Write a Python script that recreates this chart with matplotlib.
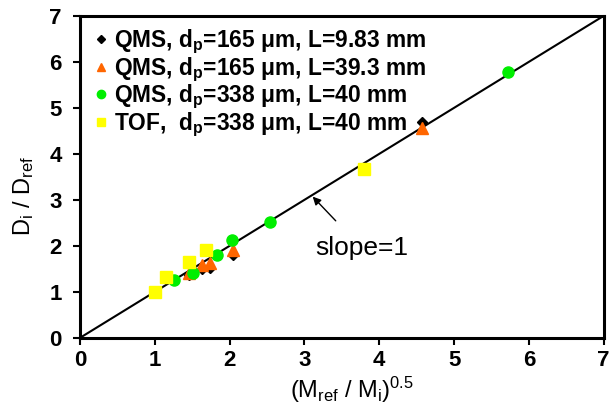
import numpy as np
import matplotlib.pyplot as plt

plt.rcParams['font.family'] = ['Liberation Sans', 'DejaVu Sans']
plt.rcParams['mathtext.fontset'] = 'custom'
plt.rcParams['mathtext.rm'] = 'Liberation Sans'
plt.rcParams['mathtext.bf'] = 'Liberation Sans:bold'
plt.rcParams['mathtext.it'] = 'Liberation Sans:italic'

# mass ratio (M_ref/M_i)^0.5 vs diffusivity ratio D_i/D_ref
x_qms165_short = [1.45, 1.63, 1.74, 2.05, 4.57]
y_qms165_short = [1.36, 1.50, 1.52, 1.80, 4.70]

x_qms165_long = [1.45, 1.63, 1.74, 2.05, 4.57]
y_qms165_long = [1.42, 1.59, 1.63, 1.90, 4.56]

x_qms338 = [1.26, 1.51, 1.83, 2.03, 2.54, 5.72]
y_qms338 = [1.25, 1.42, 1.80, 2.13, 2.52, 5.78]

x_tof338 = [1.00, 1.15, 1.45, 1.69, 3.80]
y_tof338 = [1.00, 1.32, 1.64, 1.91, 3.68]

labels = [r'QMS, d$_\mathbf{p}$=165 μm, L=9.83 mm',
          r'QMS, d$_\mathbf{p}$=165 μm, L=39.3 mm',
          r'QMS, d$_\mathbf{p}$=338 μm, L=40 mm',
          r'TOF,  d$_\mathbf{p}$=338 μm, L=40 mm']

fig = plt.figure(figsize=(6.11, 4.07), dpi=100)
ax = fig.add_axes([0.131, 0.170, 0.857, 0.791])

# slope = 1 reference line
line = np.array([0, 7])
ax.plot(line, line, color='black', lw=1.5, zorder=1)

ax.plot(x_qms165_short, y_qms165_short, 'D', color='black', ms=5, ls='none', label=labels[0], zorder=2)
ax.plot(x_qms165_long, y_qms165_long, '^', color='#ff6600', ms=8, ls='none', label=labels[1], zorder=3)
ax.plot(x_qms338, y_qms338, 'o', color='#00ee00', ms=8, ls='none', label=labels[2], zorder=4)
ax.plot(x_tof338, y_tof338, 's', color='#ffff00', ms=8, ls='none', label=labels[3], zorder=5)

ax.annotate('slope=1', xy=(3.11, 3.07), xytext=(3.76, 1.96),
            ha='center', va='center', fontsize=19,
            arrowprops=dict(arrowstyle='-|>', color='black', lw=1, shrinkA=12, shrinkB=0,
                            mutation_scale=12))

ax.set_xlim(0, 7)
ax.set_ylim(0, 7)
ax.set_xticks(range(8))
ax.set_yticks(range(8))
for lab in ax.get_xticklabels() + ax.get_yticklabels():
    lab.set_fontweight('bold')
ax.tick_params(labelsize=16, direction='out', length=5, width=1.5, pad=4)
ax.tick_params(axis='y', pad=8)

for s in ax.spines.values():
    s.set_linewidth(2.2)

ax.set_xlabel(r'(M$_\mathrm{ref}$ / M$_\mathrm{i}$)$^\mathrm{0.5}$', fontsize=17)
ax.set_ylabel(r'D$_\mathrm{i}$ / D$_\mathrm{ref}$', fontsize=17)
ax.xaxis.set_label_coords(0.52, -0.115)
ax.yaxis.set_label_coords(-0.085, 0.44)

leg = ax.legend(loc='upper left', bbox_to_anchor=(0.0, 1.012), frameon=False,
                prop={'weight': 'bold', 'size': 16.4}, handlelength=0.4,
                handletextpad=0.4, labelspacing=-0.04, markerscale=0.75,
                borderaxespad=0.3)

fig.savefig('out.png', dpi=100)
